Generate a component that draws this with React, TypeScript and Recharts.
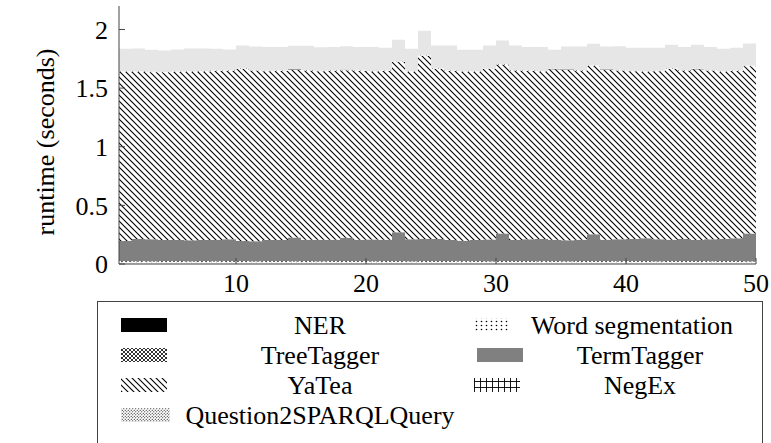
import React from 'react';
import { AreaChart, Area, XAxis, YAxis, Label } from 'recharts';

const xs = [1, 2, 3, 4, 5, 6, 7, 8, 9, 10, 11, 12, 13, 14, 15, 16, 17, 18, 19, 20, 21, 22, 23, 24, 25, 26, 27, 28, 29, 30, 31, 32, 33, 34, 35, 36, 37, 38, 39, 40, 41, 42, 43, 44, 45, 46, 47, 48, 49, 50];

const ner = [0.002, 0.002, 0.002, 0.002, 0.002, 0.002, 0.002, 0.002, 0.002, 0.002, 0.002, 0.002, 0.002, 0.002, 0.002, 0.002, 0.002, 0.002, 0.002, 0.002, 0.002, 0.002, 0.002, 0.002, 0.002, 0.002, 0.002, 0.002, 0.002, 0.002, 0.002, 0.002, 0.002, 0.002, 0.002, 0.002, 0.002, 0.002, 0.002, 0.002, 0.002, 0.002, 0.002, 0.002, 0.002, 0.002, 0.002, 0.002, 0.002, 0.002];

const wordSegmentation = [0.018, 0.019, 0.017, 0.018, 0.018, 0.017, 0.018, 0.019, 0.018, 0.018, 0.017, 0.018, 0.018, 0.019, 0.018, 0.017, 0.018, 0.018, 0.018, 0.019, 0.018, 0.018, 0.017, 0.018, 0.018, 0.018, 0.019, 0.018, 0.017, 0.018, 0.018, 0.018, 0.019, 0.018, 0.017, 0.018, 0.018, 0.018, 0.019, 0.018, 0.018, 0.017, 0.018, 0.018, 0.018, 0.019, 0.018, 0.018, 0.017, 0.017];

const treeTagger = [0.005, 0.005, 0.005, 0.005, 0.005, 0.005, 0.005, 0.005, 0.005, 0.005, 0.005, 0.005, 0.005, 0.005, 0.005, 0.005, 0.005, 0.005, 0.005, 0.005, 0.005, 0.005, 0.005, 0.005, 0.005, 0.005, 0.005, 0.005, 0.005, 0.005, 0.005, 0.005, 0.005, 0.005, 0.005, 0.005, 0.005, 0.005, 0.005, 0.005, 0.005, 0.005, 0.005, 0.005, 0.005, 0.005, 0.005, 0.005, 0.005, 0.005];

const termTagger = [0.171, 0.188, 0.188, 0.179, 0.179, 0.179, 0.179, 0.179, 0.185, 0.171, 0.171, 0.179, 0.179, 0.199, 0.182, 0.182, 0.182, 0.199, 0.182, 0.182, 0.182, 0.245, 0.188, 0.188, 0.188, 0.179, 0.173, 0.179, 0.185, 0.236, 0.179, 0.185, 0.188, 0.182, 0.179, 0.182, 0.228, 0.182, 0.185, 0.188, 0.194, 0.188, 0.182, 0.188, 0.179, 0.185, 0.188, 0.194, 0.236, 0.236];

const yatea = [1.444, 1.425, 1.423, 1.43, 1.434, 1.436, 1.438, 1.441, 1.438, 1.469, 1.454, 1.439, 1.441, 1.431, 1.443, 1.438, 1.441, 1.428, 1.438, 1.433, 1.438, 1.452, 1.427, 1.56, 1.452, 1.441, 1.44, 1.436, 1.455, 1.441, 1.446, 1.435, 1.427, 1.453, 1.451, 1.443, 1.435, 1.448, 1.438, 1.43, 1.421, 1.432, 1.458, 1.437, 1.456, 1.438, 1.427, 1.426, 1.427, 1.427];

const negEx = [0.004, 0.004, 0.004, 0.004, 0.004, 0.004, 0.004, 0.004, 0.004, 0.004, 0.004, 0.004, 0.004, 0.004, 0.004, 0.004, 0.004, 0.004, 0.004, 0.004, 0.004, 0.004, 0.004, 0.004, 0.004, 0.004, 0.004, 0.004, 0.004, 0.004, 0.004, 0.004, 0.004, 0.004, 0.004, 0.004, 0.004, 0.004, 0.004, 0.004, 0.004, 0.004, 0.004, 0.004, 0.004, 0.004, 0.004, 0.004, 0.004, 0.004];

const question2Sparql = [0.192, 0.194, 0.187, 0.183, 0.188, 0.194, 0.192, 0.186, 0.178, 0.195, 0.201, 0.203, 0.201, 0.201, 0.206, 0.201, 0.198, 0.201, 0.201, 0.206, 0.194, 0.186, 0.192, 0.213, 0.195, 0.215, 0.185, 0.183, 0.195, 0.2, 0.21, 0.201, 0.206, 0.163, 0.196, 0.201, 0.186, 0.196, 0.203, 0.197, 0.2, 0.195, 0.201, 0.196, 0.206, 0.198, 0.192, 0.195, 0.189, 0.189];

const seriesNames = ['NER', 'Word segmentation', 'TreeTagger', 'TermTagger', 'YaTea', 'NegEx', 'Question2SPARQLQuery'];
const seriesKeys = ['ner', 'wordSeg', 'treeTagger', 'termTagger', 'yatea', 'negEx', 'q2s'];
const xTicks = [10, 20, 30, 40, 50];
const yTicks = [0, 0.5, 1, 1.5, 2];
const yLabel = 'runtime (seconds)';

const data = xs.map((x, i) => ({
  x,
  ner: ner[i],
  wordSeg: wordSegmentation[i],
  treeTagger: treeTagger[i],
  termTagger: termTagger[i],
  yatea: yatea[i],
  negEx: negEx[i],
  q2s: question2Sparql[i],
}));

const FONT = "'Liberation Serif', 'Times New Roman', serif";
const FS = 26;
const AXIS = '#444';

const chartFills: Record<string, string> = {
  ner: '#000',
  wordSeg: 'url(#ch-dots)',
  treeTagger: 'url(#ch-cross)',
  termTagger: '#808080',
  yatea: 'url(#ch-nw)',
  negEx: 'url(#ch-grid)',
  q2s: '#e6e6e6',
};

const legendFills: Record<string, string> = {
  ner: '#000',
  wordSeg: 'url(#lg-dots)',
  treeTagger: 'url(#lg-cross)',
  termTagger: '#808080',
  yatea: 'url(#lg-nw)',
  negEx: 'url(#lg-grid)',
  q2s: 'url(#lg-cdots)',
};

function Patterns({ prefix }: { prefix: string }) {
  return (
    <defs>
      <pattern id={`${prefix}-nw`} width={6} height={6} patternUnits="userSpaceOnUse">
        <rect width={6} height={6} fill="#fff" />
        <path d="M0,0 L6,6 M-1,5 L1,7 M5,-1 L7,1" stroke="#000" strokeWidth={1.1} />
      </pattern>
      <pattern id={`${prefix}-cross`} width={4} height={4} patternUnits="userSpaceOnUse">
        <rect width={4} height={4} fill="#fff" />
        <path d="M0,0 L4,4 M4,0 L0,4" stroke="#000" strokeWidth={0.8} />
      </pattern>
      <pattern id={`${prefix}-dots`} width={5} height={4} patternUnits="userSpaceOnUse">
        <rect width={5} height={4} fill="#fff" />
        <circle cx={1.5} cy={1.5} r={0.8} fill="#000" />
      </pattern>
      <pattern id={`${prefix}-grid`} width={6} height={6} patternUnits="userSpaceOnUse">
        <rect width={6} height={6} fill="#fff" />
        <path d="M0.5,0 L0.5,6 M0,3.5 L6,3.5" stroke="#000" strokeWidth={0.9} />
      </pattern>
      <pattern id={`${prefix}-cdots`} width={3} height={3} patternUnits="userSpaceOnUse">
        <rect width={3} height={3} fill="#fff" />
        <circle cx={0.75} cy={0.75} r={0.55} fill="#000" />
        <circle cx={2.25} cy={2.25} r={0.55} fill="#000" />
      </pattern>
    </defs>
  );
}

function Legend() {
  const rowY0 = 325;
  const rowH = 30;
  const iconX = [121, 474];
  const iconW = [46, 46];
  const textCx = [320, 640];
  return (
    <svg width={771} height={443} style={{ position: 'absolute', left: 0, top: 0, pointerEvents: 'none' }}>
      <Patterns prefix="lg" />
      <rect x={97.5} y={301.5} width={665} height={200} fill="none" stroke={AXIS} strokeWidth={1} />
      {seriesNames.map((name, i) => {
        const col = i % 2;
        const row = Math.floor(i / 2);
        const cy = rowY0 + row * rowH;
        const key = seriesKeys[i];
        const isLastSingle = i === seriesNames.length - 1;
        const w = key === 'wordSeg' ? 34 : isLastSingle ? 49 : iconW[col];
        const x0 = key === 'termTagger' ? 477 : iconX[col];
        return (
          <g key={name}>
            <rect x={x0} y={cy - 7} width={w} height={14} fill={legendFills[key]} />
            <text
              x={key === 'wordSeg' ? 632 : textCx[col]}
              y={cy}
              textAnchor="middle"
              dominantBaseline="central"
              fontFamily={FONT}
              fontSize={FS}
              fill="#000"
            >
              {name}
            </text>
          </g>
        );
      })}
    </svg>
  );
}

export default function App() {
  return (
    <div style={{ position: 'absolute', left: 0, top: 0, width: 771, height: 443, background: '#fff' }}>
      <AreaChart width={771} height={443} data={data} margin={{ top: 6, right: 15, bottom: 149, left: 0 }}>
        <Patterns prefix="ch" />
        {seriesKeys.map((k, i) => (
          <Area
            key={k}
            dataKey={k}
            name={seriesNames[i]}
            stackId="s"
            type="stepAfter"
            stroke="none"
            fill={chartFills[k]}
            fillOpacity={1}
            dot={false}
            activeDot={false}
            isAnimationActive={false}
          />
        ))}
        <XAxis
          dataKey="x"
          type="number"
          domain={[1, 50]}
          ticks={xTicks}
          interval={0}
          allowDataOverflow
          height={30}
          tickSize={-6}
          tickMargin={16}
          stroke={AXIS}
          tick={{ fill: '#000', fontSize: FS, fontFamily: FONT }}
        />
        <XAxis
          xAxisId="top"
          orientation="top"
          dataKey="x"
          type="number"
          domain={[1, 50]}
          ticks={xTicks}
          interval={0}
          allowDataOverflow
          height={0}
          tickSize={-6}
          tick={false}
          stroke={AXIS}
        />
        <YAxis
          type="number"
          domain={[0, 2.2]}
          ticks={yTicks}
          interval={0}
          allowDataOverflow
          width={119}
          tickSize={-6}
          tickMargin={17}
          stroke={AXIS}
          tick={{ fill: '#000', fontSize: FS, fontFamily: FONT }}
        >
          <Label
            content={(p: any) => {
              const vb = p.viewBox || { x: 0, y: 6, width: 119, height: 258 };
              const cx = vb.x + 45;
              const cy = vb.y + vb.height / 2 + 7;
              return (
                <text
                  x={cx}
                  y={cy}
                  transform={`rotate(-90 ${cx} ${cy})`}
                  textAnchor="middle"
                  dominantBaseline="central"
                  fontFamily={FONT}
                  fontSize={FS}
                  fill="#000"
                >
                  {yLabel}
                </text>
              );
            }}
          />
        </YAxis>
        <YAxis
          yAxisId="right"
          orientation="right"
          type="number"
          domain={[0, 2.2]}
          ticks={yTicks}
          interval={0}
          allowDataOverflow
          width={0}
          tickSize={-6}
          tick={false}
          stroke={AXIS}
        />
      </AreaChart>
      <Legend />
    </div>
  );
}
